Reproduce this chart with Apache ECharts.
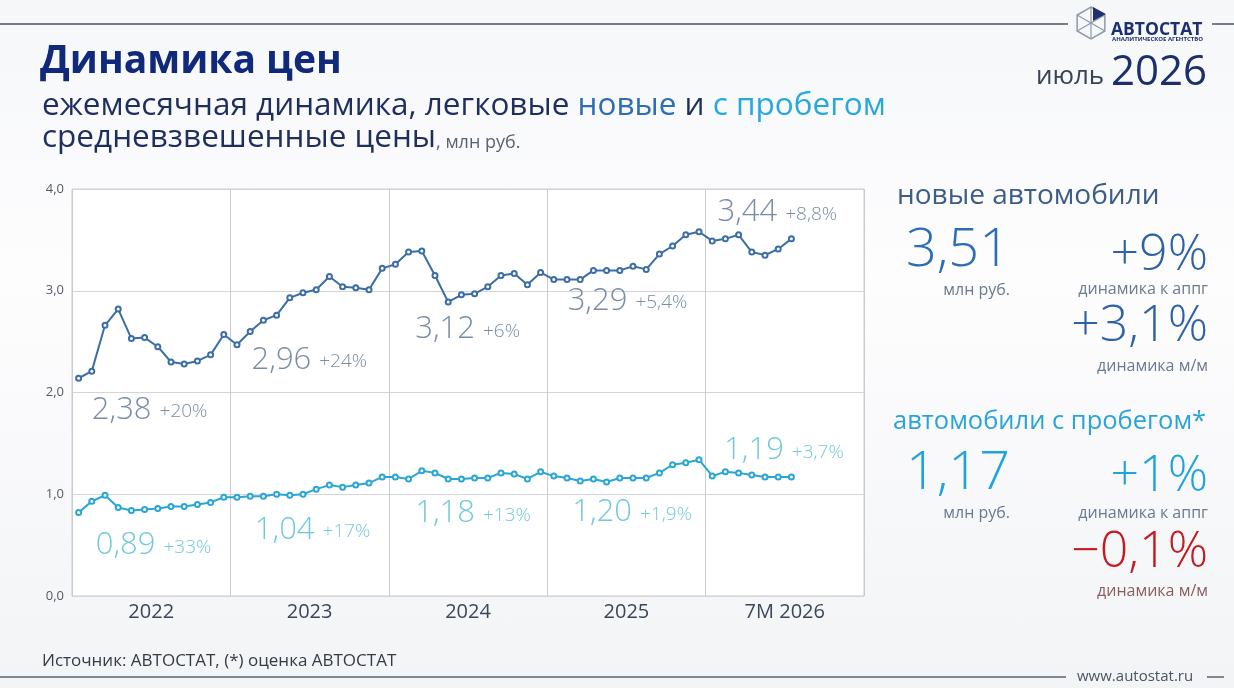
<!DOCTYPE html>
<html>
<head>
<meta charset="utf-8">
<script src="https://cdn.jsdelivr.net/npm/echarts@6/dist/echarts.min.js"></script>
<style>
  html, body { margin: 0; padding: 0; }
  body { width: 1234px; height: 688px; background: linear-gradient(180deg, #f6f7f9 0%, #fdfdfe 40%, #f3f4f6 100%); }
  #chart { width: 1234px; height: 688px; }
</style>
</head>
<body>
<div id="chart"></div>
<script>
// месяцы янв 2022 - дек 2026 (2026 - только 7 месяцев данных)
var years = ['2022', '2023', '2024', '2025', '7M 2026'];
var months = [];
for (var y = 2022; y <= 2026; y++) {
    for (var m = 1; m <= 12; m++) months.push(y + '-' + m);
}
var yTicks = ['0,0', '1,0', '2,0', '3,0', '4,0'];

// новые автомобили, млн руб.
var newPrices = [
    2.14, 2.21, 2.66, 2.82, 2.53, 2.54, 2.45, 2.30, 2.28, 2.31, 2.37, 2.57,
    2.47, 2.60, 2.71, 2.76, 2.93, 2.98, 3.01, 3.14, 3.04, 3.03, 3.01, 3.22,
    3.26, 3.38, 3.39, 3.15, 2.89, 2.96, 2.97, 3.04, 3.15, 3.17, 3.06, 3.18,
    3.11, 3.11, 3.11, 3.20, 3.20, 3.20, 3.24, 3.21, 3.36, 3.44, 3.55, 3.58,
    3.49, 3.51, 3.55, 3.38, 3.35, 3.41, 3.51
];
// автомобили с пробегом, млн руб.
var usedPrices = [
    0.82, 0.93, 0.99, 0.87, 0.84, 0.85, 0.86, 0.88, 0.88, 0.90, 0.92, 0.97,
    0.97, 0.98, 0.98, 1.00, 0.99, 1.00, 1.05, 1.09, 1.07, 1.09, 1.11, 1.17,
    1.17, 1.15, 1.23, 1.21, 1.15, 1.15, 1.16, 1.16, 1.21, 1.20, 1.15, 1.22,
    1.18, 1.16, 1.13, 1.15, 1.12, 1.16, 1.16, 1.16, 1.21, 1.29, 1.31, 1.34,
    1.18, 1.22, 1.21, 1.19, 1.17, 1.17, 1.17
];

// среднегодовые цены и динамика к прошлому году
var newAvg = ['2,38', '2,96', '3,12', '3,29', '3,44'];
var newYoy = ['+20%', '+24%', '+6%', '+5,4%', '+8,8%'];
var usedAvg = ['0,89', '1,04', '1,18', '1,20', '1,19'];
var usedYoy = ['+33%', '+17%', '+13%', '+1,9%', '+3,7%'];

// где стоят подписи: [месяц от левого края, уровень по оси Y]
var newLabelPos = [[1.5, 1.83], [13.6, 2.32], [26.0, 2.62], [37.55, 2.90], [48.9, 3.77]];
var usedLabelPos = [[1.8, 0.50], [13.85, 0.65], [26.0, 0.81], [37.9, 0.82], [49.4, 1.43]];

var NEW_C = '#3c6ea6';
var USED_C = '#2aa6d6';
var FONT = '"Open Sans", "Noto Sans", sans-serif';

function labelData(avg, yoy, pos) {
    return avg.map(function(a, i) {
        return { value: pos[i], avg: a, yoy: yoy[i] };
    });
}

function labelSeries(data, color) {
    return {
        type: 'scatter',
        xAxisIndex: 2,
        symbolSize: 0,
        silent: true,
        data: data,
        label: {
            show: true,
            position: 'right',
            distance: 0,
            formatter: function(p) { return '{a|' + p.data.avg + '}{b|' + p.data.yoy + '}'; },
            rich: {
                a: { fontFamily: FONT, fontWeight: 300, fontSize: 31, color: color },
                b: { fontFamily: FONT, fontWeight: 300, fontSize: 19, color: color, padding: [4, 0, 0, 8] }
            }
        }
    };
}

var chart = echarts.init(document.getElementById('chart'));

function txt(text, x, y, size, color, opts) {
    opts = opts || {};
    return {
        type: 'text',
        x: x, y: y,
        silent: true,
        style: {
            text: text,
            fontFamily: FONT,
            fontSize: size,
            fontWeight: opts.weight || 'normal',
            fill: color,
            align: opts.align || 'left',
            verticalAlign: 'middle',
            rich: opts.rich
        }
    };
}

var hexR = 16, hx = 1091, hy = 23;
var hexPts = [];
for (var k = 0; k < 6; k++) {
    var ang = Math.PI / 3 * k - Math.PI / 2;
    hexPts.push([hx + hexR * Math.cos(ang), hy + hexR * Math.sin(ang)]);
}

var graphics = [
    // верхняя линия и логотип
    { type: 'line', silent: true, shape: { x1: 0, y1: 24, x2: 1068, y2: 24 }, style: { stroke: '#4b5561', lineWidth: 1.5 } },
    { type: 'line', silent: true, shape: { x1: 1212, y1: 24, x2: 1234, y2: 24 }, style: { stroke: '#4b5561', lineWidth: 1.5 } },
    { type: 'polygon', silent: true, shape: { points: hexPts }, style: { fill: 'none', stroke: '#8e9aa8', lineWidth: 1.5 } },
    { type: 'polyline', silent: true, shape: { points: [hexPts[0], hexPts[3]] }, style: { stroke: '#8e9aa8', lineWidth: 1.2 } },
    { type: 'polyline', silent: true, shape: { points: [hexPts[1], hexPts[4]] }, style: { stroke: '#8e9aa8', lineWidth: 1.2 } },
    { type: 'polyline', silent: true, shape: { points: [hexPts[2], hexPts[5]] }, style: { stroke: '#8e9aa8', lineWidth: 1.2 } },
    { type: 'polygon', silent: true, shape: { points: [[hx + 2, hy - 2], [hexPts[0][0] + 2, hexPts[0][1]], [hexPts[1][0] + 1, hexPts[1][1] - 1]] }, style: { fill: '#1d2f6f' } },
    txt('АВТОСТАТ', 1111, 30, 17.5, '#1d2f6f', { weight: 'bold' }),
    txt('АНАЛИТИЧЕСКОЕ АГЕНТСТВО', 1112, 39, 6, '#1d2f6f', { weight: 'bold' }),
    txt('{a|июль }{b|2026}', 1207, 73, 26, '#333', {
        align: 'right',
        rich: {
            a: { fontFamily: FONT, fontSize: 26, fill: '#3a4354', padding: [8, 0, 0, 0] },
            b: { fontFamily: FONT, fontSize: 42, fill: '#1b2f6d' }
        }
    }),

    // заголовок
    txt('Динамика цен', 40, 62, 39, '#11297a', { weight: 'bold' }),
    txt('{d|ежемесячная динамика, легковые }{n|новые}{d| и }{c|с пробегом}', 42, 106, 31, '#1e2f5e', {
        rich: {
            d: { fontFamily: FONT, fontSize: 31.5, fill: '#1e2f5e' },
            n: { fontFamily: FONT, fontSize: 31.5, fill: '#2f6db5' },
            c: { fontFamily: FONT, fontSize: 31.5, fill: '#27a8df' }
        }
    }),
    txt('{d|средневзвешенные цены}{s|, млн руб.}', 42, 138, 31, '#1e2f5e', {
        rich: {
            d: { fontFamily: FONT, fontSize: 31.5, fill: '#1e2f5e' },
            s: { fontFamily: FONT, fontSize: 18, fill: '#5a6272', padding: [9, 0, 0, 0] }
        }
    }),

    // правая панель: новые
    txt('новые автомобили', 897, 196, 28, '#3d5d86'),
    txt('3,51', 1010, 251, 54, '#2d6db5', { align: 'right', weight: 300 }),
    txt('млн руб.', 1010, 290, 16, '#6b7a90', { align: 'right' }),
    txt('+9%', 1208, 256, 50, '#2f62a5', { align: 'right', weight: 300 }),
    txt('динамика к аппг', 1208, 289, 16, '#6b7a90', { align: 'right' }),
    txt('+3,1%', 1208, 327, 50, '#2f62a5', { align: 'right', weight: 300 }),
    txt('динамика м/м', 1208, 366, 16, '#6b7a90', { align: 'right' }),

    // правая панель: с пробегом
    txt('автомобили с пробегом*', 893, 422, 25.5, '#2aa4d8'),
    txt('1,17', 1010, 474, 54, '#1fa3de', { align: 'right', weight: 300 }),
    txt('млн руб.', 1010, 513, 16, '#6b7a90', { align: 'right' }),
    txt('+1%', 1208, 477, 50, '#1fa3de', { align: 'right', weight: 300 }),
    txt('динамика к аппг', 1208, 513, 16, '#6b7a90', { align: 'right' }),
    txt('\u22120,1%', 1208, 553, 50, '#c41a20', { align: 'right', weight: 300 }),
    txt('динамика м/м', 1208, 591, 16, '#8a5d62', { align: 'right' }),

    // подвал
    txt('Источник: АВТОСТАТ, (*) оценка АВТОСТАТ', 42, 661, 17, '#333b45'),
    { type: 'line', silent: true, shape: { x1: 0, y1: 677, x2: 1066, y2: 677 }, style: { stroke: '#7b8792', lineWidth: 2 } },
    txt('www.autostat.ru', 1077, 677, 15, '#4a5561'),
    { type: 'line', silent: true, shape: { x1: 1207, y1: 677, x2: 1224, y2: 677 }, style: { stroke: '#7b8792', lineWidth: 2 } }
];

var option = {
    animation: false,
    backgroundColor: 'transparent',
    grid: {
        left: 72, right: 370, top: 189, bottom: 92,
        show: true,
        backgroundColor: '#ffffff',
        borderColor: '#c9cbce',
        borderWidth: 1
    },
    xAxis: [
        {
            type: 'category',
            data: months,
            boundaryGap: true,
            axisLine: { show: false },
            axisTick: { show: false },
            axisLabel: { show: false },
            splitLine: { show: false }
        },
        {
            type: 'category',
            data: years,
            position: 'bottom',
            boundaryGap: true,
            axisLine: { show: false },
            axisTick: { show: false },
            axisLabel: { fontFamily: FONT, fontSize: 20, color: '#3b4759', margin: 6 },
            splitLine: { show: true, lineStyle: { color: '#c9cbce', width: 1 } }
        },
        {
            type: 'value',
            min: 0, max: 60,
            show: false
        }
    ],
    yAxis: {
        type: 'value',
        min: 0, max: 4, interval: 1,
        axisLine: { show: false },
        axisTick: { show: false },
        axisLabel: {
            fontFamily: FONT, fontSize: 13, color: '#555b63', margin: 8,
            formatter: function(v) { return yTicks[Math.round(v)]; }
        },
        splitLine: { lineStyle: { color: '#d3d5d8', width: 1 } }
    },
    series: [
        {
            name: 'новые',
            type: 'line',
            xAxisIndex: 0,
            data: newPrices,
            symbol: 'emptyCircle',
            symbolSize: 5,
            lineStyle: { color: NEW_C, width: 2 },
            itemStyle: { color: NEW_C, borderWidth: 1.5 }
        },
        {
            name: 'с пробегом',
            type: 'line',
            xAxisIndex: 0,
            data: usedPrices,
            symbol: 'emptyCircle',
            symbolSize: 5,
            lineStyle: { color: USED_C, width: 2 },
            itemStyle: { color: USED_C, borderWidth: 1.5 }
        },
        labelSeries(labelData(newAvg, newYoy, newLabelPos), '#56708f'),
        labelSeries(labelData(usedAvg, usedYoy, usedLabelPos), '#4dbccd')
    ],
    graphic: graphics
};

chart.setOption(option);
</script>
</body>
</html>
